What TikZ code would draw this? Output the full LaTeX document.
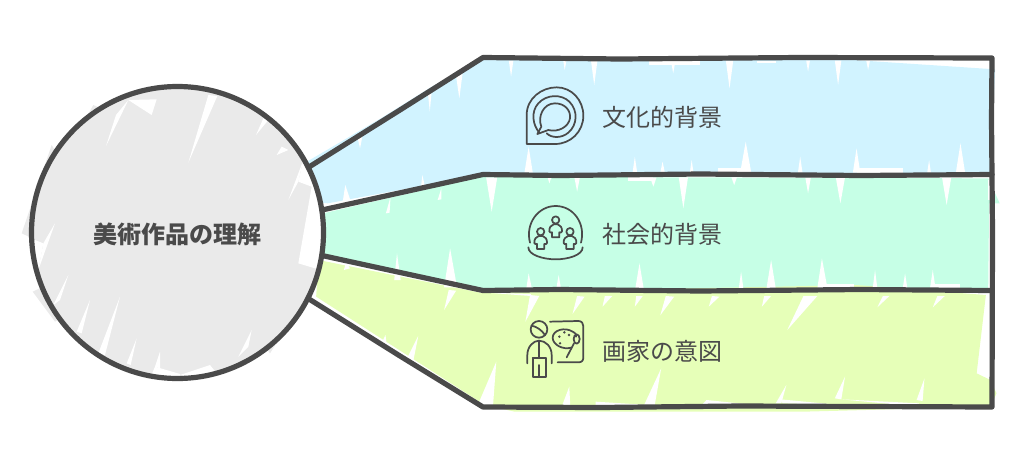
\documentclass[tikz,border=0pt]{standalone}
\usepackage{fontspec}
\setmainfont{Noto Sans CJK JP}
\definecolor{ink}{HTML}{4A4A4A}
\definecolor{bandblue}{HTML}{D1F3FF}
\definecolor{bandgreen}{HTML}{C6FFE6}
\definecolor{bandyellow}{HTML}{E6FFB8}
\definecolor{discgray}{HTML}{EAEAEA}
\tikzset{
 outline/.style={draw=ink,line width=3.9pt,line join=round,line cap=round},
 icon/.style={draw=ink,line width=1.3pt,line join=round,line cap=round},
 label/.style={text=ink,font=\fontsize{18pt}{20pt}\selectfont,inner sep=0pt},
 bands/.style={shift={(300,40)},x=0.3464pt,y=-0.25pt},
 zoomthree/.style={shift={(10,70)},x=0.25pt,y=-0.25pt},
}
\def\gp(#1)(#2)(#3);{\fill[white] (#1)--(#2)--(#3)--cycle;}
\newcommand{\person}[3]{% x,y,scale about head centre
 \begin{scope}[shift={(#1,#2)},scale=#3]
  \draw[icon] (0,0) circle (11);
  \draw[icon] (-6,13) .. controls (-13,15) and (-20,22) .. (-19,34) .. controls (-18,38) and (-14,38) .. (-11,37) -- (-11,52) -- (11,52) -- (11,37) .. controls (14,38) and (18,38) .. (19,34) .. controls (20,22) and (13,15) .. (6,13) -- cycle;
 \end{scope}}
\begin{document}
\begin{tikzpicture}[x=0.75pt,y=-0.75pt]
\useasboundingbox (0,0) rectangle (1024,468);
\begin{scope}[bands]
 \fill[bandblue] (15,365)--(175,235)--(285,140)--(392,60)--(1090,50)--(1505,88)--(1495,400)--(390,405)--(60,490)--(30,485)--cycle;
 \fill[bandgreen] (50,520)--(392,410)--(1490,415)--(1515,490)--(1492,490)--(1490,745)--(395,750)--(45,640)--(40,590)--cycle;
 \fill[bandyellow] (40,660)--(390,758)--(1205,735)--(1485,765)--(1465,1000)--(1495,1020)--(1508,1060)--(1495,1100)--(1090,1115)--(465,1115)--(400,1095)--(35,770)--cycle;
 % blue gaps
 \gp(452,62)(462,62)(457,110);\gp(570,62)(577,62)(573,90);\gp(630,62)(644,62)(637,135);
 \gp(803,62)(813,62)(808,100);\gp(922,62)(938,62)(930,145);\gp(1096,62)(1104,62)(1100,95);
 \gp(1158,62)(1172,62)(1165,135);\gp(1226,62)(1234,62)(1230,90);
 \fill[white] (755,62) rectangle (865,75); \fill[white] (990,62) rectangle (1030,70);
 \gp(486,398)(504,398)(495,320);\gp(720,398)(730,398)(725,350);\gp(780,398)(790,398)(785,365);
 \gp(844,398)(852,398)(848,360);\gp(953,398)(977,398)(965,305);\gp(1078,398)(1088,398)(1083,350);
 \gp(1197,398)(1213,398)(1205,325);\gp(1358,398)(1366,398)(1362,360);\gp(1420,398)(1440,398)(1430,310);
 \fill[white] (1205,385) rectangle (1305,398); \fill[white] (905,385) rectangle (970,398);
 \gp(338,110)(352,100)(345,175);\gp(277,160)(285,155)(281,215);\gp(125,295)(135,290)(130,325);\gp(92,490)(110,485)(98,435);
 \gp(262,440)(270,437)(265,405);
 % green gaps
 \gp(403,412)(427,412)(415,515);\gp(536,412)(544,412)(540,430);\gp(594,412)(606,412)(600,455);
 \gp(758,412)(772,412)(765,440);\gp(820,412)(840,412)(830,505);\gp(934,412)(946,412)(940,435);
 \gp(1094,412)(1106,412)(1100,460);\gp(1160,412)(1180,412)(1170,490);\gp(1390,412)(1410,412)(1400,495);
 \fill[white] (710,412) rectangle (765,422); \fill[white] (1490,420) rectangle (1496,480);
 \gp(312,742)(340,742)(325,625);\gp(204,720)(218,720)(210,640);\gp(490,745)(502,745)(495,700);
 \gp(555,745)(565,745)(560,705);\gp(726,745)(744,745)(735,670);\gp(950,745)(960,745)(955,695);
 \gp(1010,745)(1030,745)(1020,660);\gp(1120,745)(1142,745)(1130,655);\gp(1240,745)(1250,745)(1245,690);
 \gp(1305,745)(1315,745)(1310,700);\gp(1364,745)(1376,745)(1370,690);
 \fill[white] (1130,733) rectangle (1200,745); \fill[white] (1370,733) rectangle (1430,745);
 \gp(186,520)(196,470)(194,518);\gp(298,480)(306,445)(306,478);\gp(100,665)(95,690)(108,685);
 % yellow gaps
 \gp(322,750)(338,752)(312,810);\gp(498,765)(518,768)(488,845);\gp(600,768)(616,770)(590,822);
 \gp(792,768)(810,770)(780,826);\gp(892,768)(908,770)(885,800);\gp(1090,768)(1120,768)(1055,870);
 \gp(1262,768)(1276,768)(1250,802);\gp(1380,768)(1396,768)(1370,802);\gp(1005,768)(1020,768)(1000,800);\gp(660,768)(676,768)(655,800);\gp(728,768)(742,768)(725,800);
 \fill[white] (405,758) -- (500,768) -- (500,762) -- cycle;
 \gp(385,1095)(418,1095)(425,965);\gp(568,1095)(585,1095)(583,1040);\gp(745,1095)(768,1095)(782,985);
 \gp(1030,1090)(1042,1090)(1053,1035);\gp(1158,1075)(1172,1078)(1180,1010);\gp(1335,1080)(1348,1083)(1352,1015);
 \gp(230,960)(245,965)(256,888);\gp(640,1085)(640,1095)(755,1095);\gp(1172,1078)(1340,1100)(1340,1090);
 \gp(870,1095)(880,1080)(985,1095);\gp(1045,1090)(1040,1078)(1170,1095);
 \gp(185,885)(175,915)(187,905);
\end{scope}
% disc
\fill[white] (177.5,232.5) circle (146);
\fill[discgray] (177.5,232.5) circle (146);
\begin{scope}[zoomthree]
 \fill[discgray] (125,225)--(35,490)--(100,520)--(200,350)--cycle;
 \fill[discgray] (175,615)--(68,665)--(135,755)--(250,690)--cycle;
 \fill[discgray] (250,105)--(318,135)--(290,230)--(190,210)--cycle;
 \fill[discgray] (725,780)--(780,850)--(830,770)--(760,730)--cycle;
 \fill[discgray] (760,145)--(830,190)--(790,220)--cycle;
 \begin{scope}
  \clip (500,488) circle (438);
  \gp(595,75)(622,78)(535,278);\gp(318,135)(355,90)(288,228);\gp(355,90)(440,88)(425,135);
  \gp(135,460)(100,520)(85,600);\gp(100,520)(62,505)(85,600);
  \gp(175,615)(130,705)(150,690);\gp(240,690)(200,785)(215,790);\gp(330,680)(265,850)(285,855);
  \gp(380,805)(350,880)(362,885);\gp(450,845)(435,890)(450,895);\fill[white] (435,890)--(510,912)--(510,930)--(420,925)--cycle;
  \gp(725,780)(685,860)(715,830);\gp(600,885)(510,915)(640,935);
  \gp(760,145)(738,195)(775,150);\gp(815,230)(800,255)(835,240);\gp(690,100)(730,120)(700,90);
  \fill[white] (865,335)--(905,350)--(865,580)--(915,595)--(945,600)--(945,400)--(880,270)--cycle;
  \gp(865,335)(835,390)(880,270);
 \end{scope}
\end{scope}
% strokes
\coordinate (bandA) at (483,57.5);
\coordinate (bandB) at (483,174.5);
\coordinate (bandC) at (483,290.5);
\coordinate (bandD) at (483,407);
\draw[outline] (309,167)--(400,110)--(bandA)--(620,59)--(800,57.5)--(992,58)--(991.5,120)--(992.5,232)--(992,407)--(740,406)--(600,407.5)--(bandD)--(400,356)--(309,299);
\draw[outline] (322,210)--(bandB)--(560,175.5)--(700,174)--(860,175.5)--(992,174.5);
\draw[outline] (322,255.5)--(bandC)--(560,289.5)--(700,291)--(860,289.5)--(992,290.5);
\node[circle,draw=ink,line width=3.9pt,minimum size=219pt,inner sep=0pt] (disc) at (177.5,232.5) {};
\node[label,font=\fontsize{18pt}{20pt}\selectfont\bfseries] (title) at (177.5,234) {美術作品の理解};
\node[label] (t1) at (662.5,117) {文化的背景};
\node[label] (t2) at (662.5,234.5) {社会的背景};
\node[label] (t3) at (662.5,351) {画家の意図};
% icon 1
\begin{scope}[shift={(500,70)},x=0.25pt,y=-0.25pt]
 \draw[icon] (80,222)--(80,135) .. controls (80,85) and (125,52) .. (170,52) .. controls (215,52) and (250,90) .. (250,137) .. controls (250,185) and (212,222) .. (165,222)--cycle;
 \draw[icon] (118,188) .. controls (98,165) and (92,125) .. (115,100) .. controls (140,72) and (185,72) .. (208,95) .. controls (235,122) and (232,165) .. (205,188) .. controls (185,205) and (155,205) .. (140,190);
 \draw[icon] (112,192)--(124,170) .. controls (112,140) and (130,100) .. (165,100) .. controls (195,100) and (213,122) .. (210,145) .. controls (206,170) and (175,188) .. (145,180)--cycle;
\end{scope}
% icon 2
\begin{scope}[shift={(500,195)},x=0.25pt,y=-0.25pt]
 \draw[icon] (90,143) .. controls (75,85) and (115,33) .. (167,33) .. controls (220,33) and (258,85) .. (243,143);
 \draw[icon] (85,157) .. controls (85,180) and (130,193) .. (167,193) .. controls (205,193) and (248,180) .. (248,157);
 \person{167}{75}{1}
 \person{122}{110}{1}
 \person{210}{110}{1}
\end{scope}
% icon 3
\begin{scope}[shift={(500,195)},x=0.25pt,y=-0.25pt]
 \draw[icon] (117,403) circle (25);
 \draw[icon] (95,392) .. controls (110,395) and (125,405) .. (135,420);
 \draw[icon] (82,505)--(82,480) .. controls (82,455) and (100,437) .. (117,437) .. controls (137,437) and (155,455) .. (155,480)--(155,505);
 \draw[icon] (118,437)--(118,490);
 \draw[icon] (98,490)--(98,545)--(138,545)--(138,490);
 \draw[icon] (118,510)--(118,545);
 \draw[icon] (98,490)--(138,490);
 \draw[icon] (150,380)--(235,378) .. controls (245,378) and (250,385) .. (250,393)--(250,487) .. controls (250,497) and (245,502) .. (235,502)--(173,502);
 \draw[icon] (213,458) .. controls (190,465) and (158,450) .. (158,428) .. controls (158,405) and (195,395) .. (218,410) .. controls (228,415) and (230,420) .. (228,425);
 \draw[icon] (200,487)--(222,445);
 \draw[icon] (230,432) ellipse (9 and 14);
 \fill[ink] (178,425) circle (4) (193,412) circle (4) (207,420) circle (4) (180,445) circle (4);
\end{scope}
\end{tikzpicture}
\end{document}
